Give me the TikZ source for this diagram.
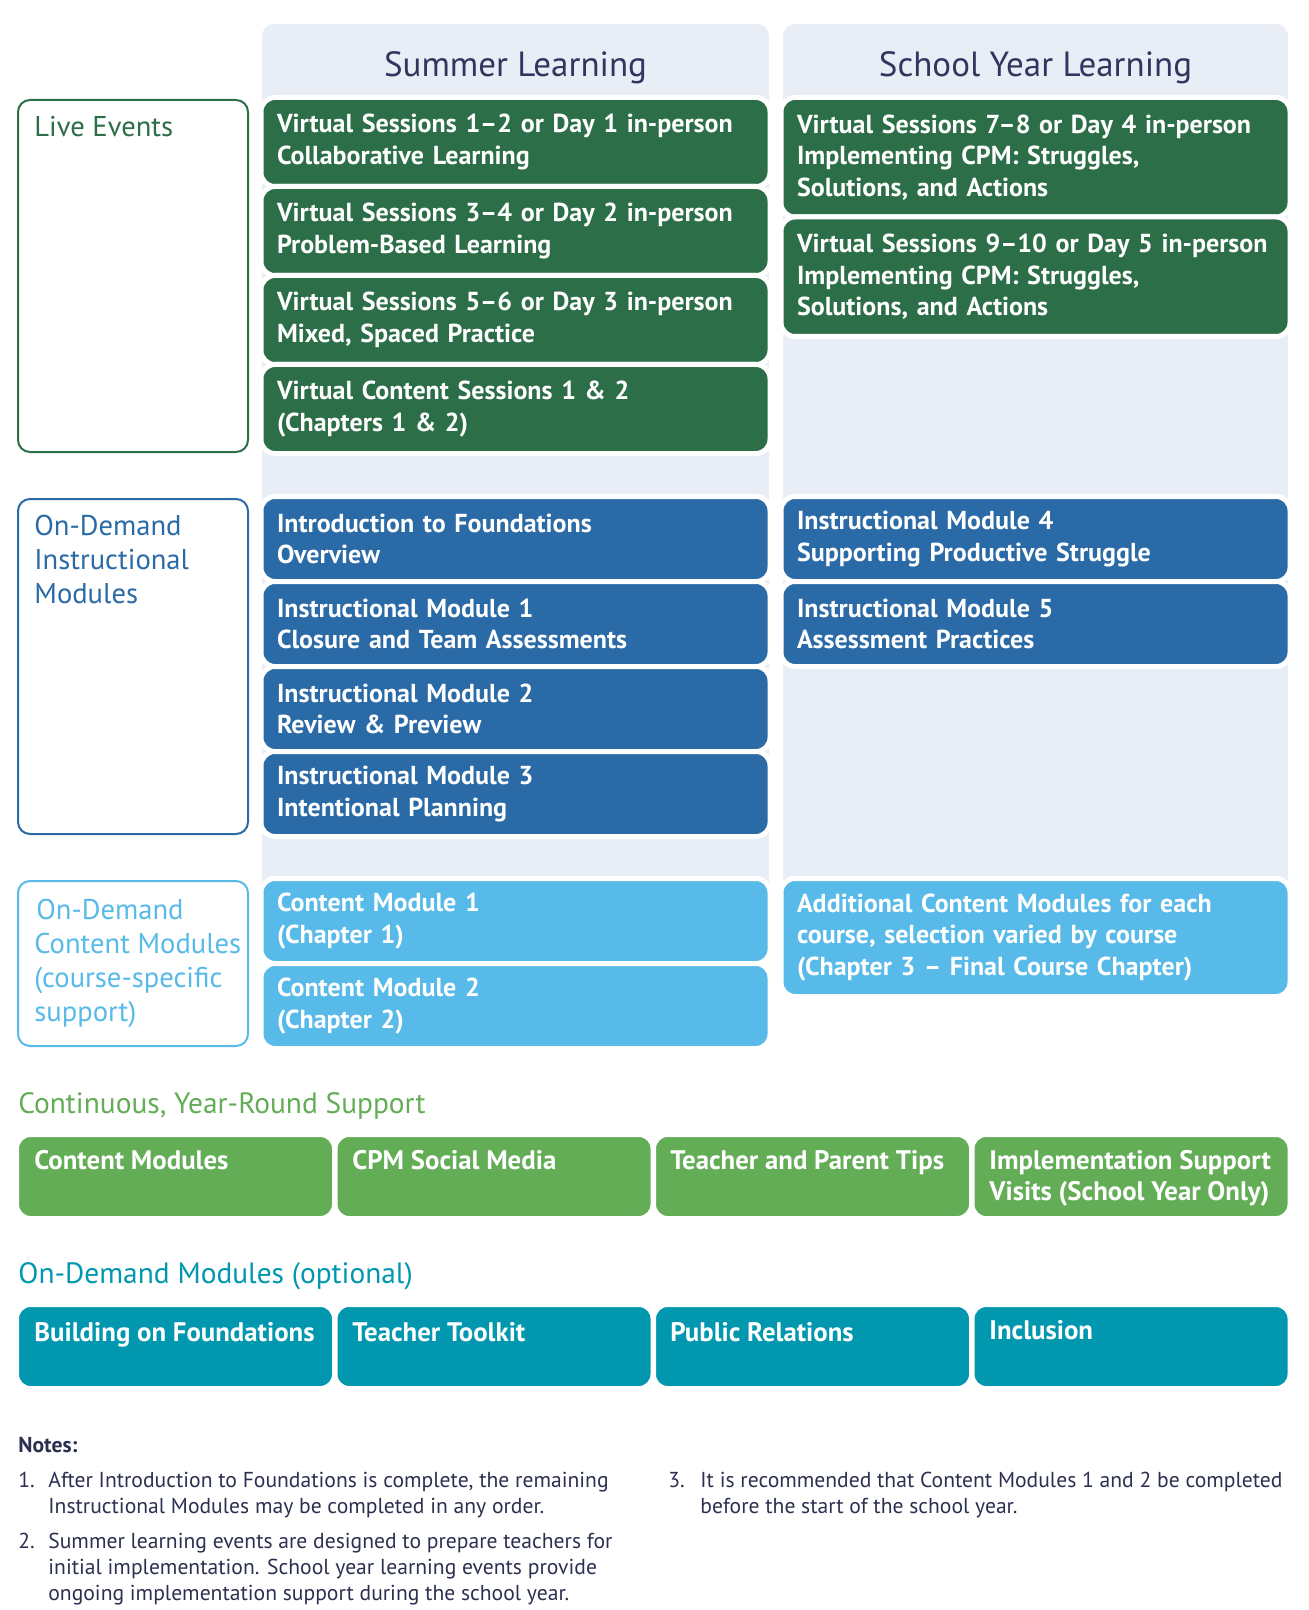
\documentclass[tikz,border=0pt]{standalone}
\usepackage{fontspec}
\setmainfont{PT Sans}
\usetikzlibrary{positioning}
\definecolor{dkgreen}{HTML}{2C6E47}
\definecolor{midblue}{HTML}{2A6AA6}
\definecolor{skyblue}{HTML}{57BAE9}
\definecolor{leafgreen}{HTML}{62AD55}
\definecolor{tealbox}{HTML}{0097AF}
\definecolor{colbg}{HTML}{E9EDF6}
\definecolor{navy}{HTML}{30375F}
\definecolor{notecol}{HTML}{2C3050}
\tikzset{
  column/.style={fill=colbg, rounded corners=6pt},
  coltitle/.style={anchor=base, text=navy, font=\fontsize{17.5pt}{20pt}\selectfont},
  tile/.style={draw=white, line width=2.5pt, rounded corners=7pt, anchor=north west,
    outer sep=0pt, inner xsep=8pt, inner ysep=0pt, text width=238.5pt, align=left,
    text=white, font=\fontsize{13pt}{15.75pt}\selectfont\bfseries},
  sidebox/.style={line width=1pt, rounded corners=6pt, anchor=north west, fill=white,
    minimum width=115pt, outer sep=0pt},
  sidelabel/.style={anchor=base west, align=left, inner sep=0pt,
    font=\fontsize{14.3pt}{17pt}\selectfont},
  heading/.style={anchor=base west, inner sep=0pt, font=\fontsize{14.7pt}{17pt}\selectfont},
  strip/.style={draw=white, line width=2.5pt, rounded corners=7pt, anchor=north west,
    outer sep=0pt, minimum width=159pt, minimum height=42pt},
  striptext/.style={anchor=base west, align=left, inner sep=0pt, text=white,
    font=\fontsize{13.4pt}{15.5pt}\selectfont\bfseries},
  note/.style={anchor=base west, align=left, inner sep=0pt, text=notecol,
    font=\fontsize{10.8pt}{13pt}\selectfont},
}

\begin{document}
\begin{tikzpicture}[x=0.5pt, y=-0.5pt]
  \useasboundingbox (0,0) rectangle (1308,1610);

  % the two columns
  \fill[column] (262,24) rectangle (769,925);
  \fill[column] (783,24) rectangle (1288,925);
  \node[coltitle] (sumtitle) at (515.5,77) {Summer Learning};
  \node[coltitle] (schtitle) at (1035.5,77) {School Year Learning};

  % row labels (multi-line texts sit on their last line)
  \node[sidebox, draw=dkgreen, minimum height=176pt] (live) at (18,100) {};
  \node[sidelabel, text=dkgreen] (livetxt) at (34,137) {Live Events};
  \node[sidebox, draw=midblue, minimum height=167.5pt] (instr) at (18,499) {};
  \node[sidelabel, text=midblue] (instrtxt) at (34,603) {On-Demand\\Instructional\\Modules};
  \node[sidebox, draw=skyblue, minimum height=82.5pt] (cont) at (18,881) {};
  \node[sidelabel, text=skyblue] (conttxt) at (34,1021) {\hspace*{1pt}On-Demand\\Content Modules\\(course-specific\\support)};

  % live events
  \node[tile, fill=dkgreen, minimum height=44.5pt] (vs12) at (261,97.5) {Virtual Sessions 1–2 or Day 1 in-person\\Collaborative Learning};
  \node[tile, fill=dkgreen, minimum height=44.5pt] (vs34) at (261,186.5) {Virtual Sessions 3–4 or Day 2 in-person\\Problem-Based Learning};
  \node[tile, fill=dkgreen, minimum height=44.5pt] (vs56) at (261,275.5) {Virtual Sessions 5–6 or Day 3 in-person\\Mixed, Spaced Practice};
  \node[tile, fill=dkgreen, minimum height=44.5pt] (vcs) at (261,364.5) {Virtual Content Sessions 1 \& 2\\(Chapters 1 \& 2)};
  \node[tile, fill=dkgreen, minimum height=59.75pt] (vs78) at (781,97.5) {Virtual Sessions 7–8 or Day 4 in-person\\Implementing CPM: Struggles,\\Solutions, and Actions};
  \node[tile, fill=dkgreen, minimum height=59.75pt] (vs910) at (781,217) {\mbox{Virtual Sessions 9–10 or Day 5 in-person}\\Implementing CPM: Struggles,\\Solutions, and Actions};

  % instructional modules
  \node[tile, fill=midblue, minimum height=42.5pt] (intro) at (261,496.5) {Introduction to Foundations\\Overview};
  \node[tile, fill=midblue, minimum height=42.5pt] (im1) at (261,581.5) {Instructional Module 1\\Closure and Team Assessments};
  \node[tile, fill=midblue, minimum height=42.5pt] (im2) at (261,666.5) {Instructional Module 2\\Review \& Preview};
  \node[tile, fill=midblue, minimum height=42.5pt] (im3) at (261,751.5) {Instructional Module 3\\Intentional Planning};
  \node[tile, fill=midblue, minimum height=42.5pt] (im4) at (781,496.5) {Instructional Module 4\\Supporting Productive Struggle};
  \node[tile, fill=midblue, minimum height=42.5pt] (im5) at (781,581.5) {Instructional Module 5\\Assessment Practices};

  % content modules
  \node[tile, fill=skyblue, minimum height=42.5pt] (cm1) at (261,878.5) {Content Module 1\\(Chapter 1)};
  \node[tile, fill=skyblue, minimum height=42.5pt] (cm2) at (261,963.5) {Content Module 2\\(Chapter 2)};
  \node[tile, fill=skyblue, minimum height=59pt] (cmadd) at (781,878.5) {Additional Content Modules for each\\course, selection varied by course\\(Chapter 3 – Final Course Chapter)};

  % year-round support
  \node[heading, text=leafgreen] (yrhead) at (18,1113) {Continuous, Year-Round Support};
  \node[strip, fill=leafgreen] (sup1) at (16.5,1134.5) {};
  \node[strip, fill=leafgreen] (sup2) at (335,1134.5) {};
  \node[strip, fill=leafgreen] (sup3) at (653.5,1134.5) {};
  \node[strip, fill=leafgreen] (sup4) at (972,1134.5) {};
  \node[striptext] (sup1txt) at (34,1169) {Content Modules};
  \node[striptext] (sup2txt) at (352,1169) {CPM Social Media};
  \node[striptext] (sup3txt) at (670,1169) {Teacher and Parent Tips};
  \node[striptext] (sup4txt) at (989,1200) {Implementation Support\\Visits (School Year Only)};

  % optional modules
  \node[heading, text=tealbox] (opthead) at (18,1283) {On-Demand Modules (optional)};
  \node[strip, fill=tealbox] (opt1) at (16.5,1304.5) {};
  \node[strip, fill=tealbox] (opt2) at (335,1304.5) {};
  \node[strip, fill=tealbox] (opt3) at (653.5,1304.5) {};
  \node[strip, fill=tealbox] (opt4) at (972,1304.5) {};
  \node[striptext] (opt1txt) at (34,1341) {Building on Foundations};
  \node[striptext] (opt2txt) at (352,1341) {Teacher Toolkit};
  \node[striptext] (opt3txt) at (670,1341) {Public Relations};
  \node[striptext] (opt4txt) at (989,1339) {Inclusion};

  % notes
  \node[note, font=\fontsize{10.8pt}{13pt}\selectfont\bfseries] (notes) at (18,1452) {Notes:};
  \node[note] (note1) at (18,1513) {\makebox[15pt][l]{1.}After Introduction to Foundations is complete, the remaining\\\hspace*{15pt}Instructional Modules may be completed in any order.};
  \node[note] (note2) at (18,1600) {\makebox[15pt][l]{2.}Summer learning events are designed to prepare teachers for\\\hspace*{15pt}initial implementation. School year learning events provide\\\hspace*{15pt}ongoing implementation support during the school year.};
  \node[note] (note3) at (668,1513) {\makebox[16pt][l]{3.}It is recommended that Content Modules 1 and 2 be completed\\\hspace*{16pt}before the start of the school year.};

\end{tikzpicture}
\end{document}
